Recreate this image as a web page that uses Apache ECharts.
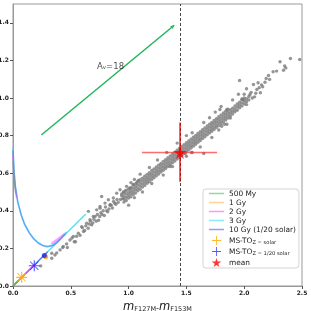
<!DOCTYPE html>
<html><head><meta charset="utf-8">
<script src="https://cdn.jsdelivr.net/npm/echarts@6/dist/echarts.min.js"></script>
<style>html,body{margin:0;padding:0;background:#fff}#c{width:311px;height:311px}</style>
</head><body><div id="c"></div>
<script>
// ---- data ----
const starsSparseLow = [
 [0.24,0.107],[0.335,0.148],[0.335,0.174],[0.363,0.165],[0.378,0.176],[0.407,0.192],[0.43,0.205],[0.435,0.21],
 [0.464,0.224],[0.47,0.205],[0.493,0.245],[0.51,0.255],[0.522,0.263],[0.53,0.235],[0.54,0.235],[0.55,0.265],
 [0.565,0.281],[0.58,0.27],[0.594,0.316],[0.6,0.31],[0.61,0.29],[0.62,0.295],[0.63,0.32],[0.637,0.334],
 [0.65,0.307],[0.652,0.397],[0.66,0.33],[0.666,0.352],[0.67,0.345],[0.68,0.325],[0.69,0.335],[0.695,0.37],
 [0.7,0.355],[0.71,0.37],[0.72,0.345],[0.724,0.405],[0.73,0.38],[0.74,0.35],[0.75,0.37],[0.753,0.414],
 [0.753,0.423],[0.76,0.39],[0.767,0.476],[0.77,0.38],[0.78,0.4],[0.79,0.375],[0.796,0.441],[0.8,0.42],
 [0.81,0.4],[0.82,0.395],[0.825,0.459],[0.83,0.41],[0.84,0.43],[0.84,0.432],[0.85,0.43],[0.86,0.415],
 [0.868,0.468],[0.87,0.45],[0.88,0.44],[0.89,0.435],[0.897,0.494],[0.9,0.46],[0.91,0.445],[0.926,0.512],
 [0.93,0.46],[0.94,0.48],[0.94,0.49],[0.95,0.465],[0.955,0.5],[0.97,0.505],[0.983,0.53],[1.01,0.52],
 [1.04,0.54],[1.07,0.55]
];
const starsBand = [
 [0.96,0.447],[0.96,0.463],[0.96,0.478],[0.96,0.495],
 [0.98,0.455],[0.98,0.472],[0.98,0.49],[0.98,0.51],
 [1.00,0.468],[1.00,0.483],[1.00,0.499],[1.00,0.516],
 [1.02,0.475],[1.02,0.492],[1.02,0.508],[1.02,0.524],
 [1.04,0.487],[1.04,0.503],[1.04,0.52],[1.04,0.537],
 [1.06,0.495],[1.06,0.512],[1.06,0.528],[1.06,0.543],
 [1.08,0.507],[1.08,0.522],[1.08,0.538],[1.08,0.556],
 [1.10,0.515],[1.10,0.532],[1.10,0.548],[1.10,0.565],
 [1.12,0.526],[1.12,0.542],[1.12,0.558],[1.12,0.574],
 [1.14,0.535],[1.14,0.551],[1.14,0.567],[1.14,0.584],
 [1.16,0.546],[1.16,0.561],[1.16,0.577],[1.16,0.594],
 [1.18,0.555],[1.18,0.571],[1.18,0.588],[1.18,0.603],
 [1.20,0.566],[1.20,0.581],[1.20,0.597],[1.20,0.614],
 [1.22,0.576],[1.22,0.591],[1.22,0.607],[1.22,0.623],
 [1.24,0.586],[1.24,0.601],[1.24,0.617],[1.24,0.633],
 [1.26,0.596],[1.26,0.611],[1.26,0.627],[1.26,0.643],
 [1.28,0.606],[1.28,0.621],[1.28,0.637],[1.28,0.652],
 [1.30,0.616],[1.30,0.631],[1.30,0.647],[1.30,0.663],
 [1.32,0.625],[1.32,0.64],[1.32,0.656],[1.32,0.672],
 [1.34,0.635],[1.34,0.65],[1.34,0.666],[1.34,0.682],
 [1.36,0.645],[1.36,0.66],[1.36,0.676],[1.36,0.692],
 [1.38,0.655],[1.38,0.67],[1.38,0.686],[1.38,0.702],
 [1.40,0.665],[1.40,0.68],[1.40,0.696],[1.40,0.712],
 [1.42,0.675],[1.42,0.69],[1.42,0.706],[1.42,0.722],
 [1.44,0.685],[1.44,0.7],[1.44,0.716],[1.44,0.732],
 [1.46,0.695],[1.46,0.71],[1.46,0.726],[1.46,0.742],
 [1.48,0.705],[1.48,0.72],[1.48,0.736],[1.48,0.752],
 [1.50,0.715],[1.50,0.73],[1.50,0.746],[1.50,0.762],
 [1.52,0.724],[1.52,0.739],[1.52,0.755],[1.52,0.771],
 [1.54,0.734],[1.54,0.749],[1.54,0.765],[1.54,0.781],
 [1.56,0.744],[1.56,0.759],[1.56,0.775],[1.56,0.791],
 [1.58,0.754],[1.58,0.769],[1.58,0.785],[1.58,0.801],
 [1.60,0.764],[1.60,0.779],[1.60,0.795],[1.60,0.811],
 [1.62,0.774],[1.62,0.789],[1.62,0.805],[1.62,0.821],
 [1.64,0.784],[1.64,0.799],[1.64,0.815],[1.64,0.831],
 [1.66,0.794],[1.66,0.809],[1.66,0.825],[1.66,0.841],
 [1.68,0.804],[1.68,0.819],[1.68,0.835],[1.68,0.851],
 [1.70,0.814],[1.70,0.829],[1.70,0.845],[1.70,0.861],
 [1.72,0.823],[1.72,0.838],[1.72,0.854],[1.72,0.87],
 [1.74,0.833],[1.74,0.848],[1.74,0.864],[1.74,0.88],
 [1.76,0.843],[1.76,0.858],[1.76,0.874],[1.76,0.89],
 [1.78,0.853],[1.78,0.868],[1.78,0.884],[1.78,0.9],
 [1.80,0.863],[1.80,0.878],[1.80,0.894],[1.80,0.91],
 [1.82,0.873],[1.82,0.888],[1.82,0.904],[1.82,0.92],
 [1.84,0.883],[1.84,0.898],[1.84,0.914],[1.84,0.93],
 [1.86,0.893],[1.86,0.908],[1.86,0.924],[1.86,0.94],
 [1.88,0.905],[1.88,0.92],[1.88,0.936],
 [1.90,0.915],[1.90,0.93],[1.90,0.946],
 [1.92,0.927],[1.92,0.942],[1.92,0.958],
 [1.94,0.935],[1.94,0.952],[1.94,0.968],
 [1.96,0.948],[1.96,0.963],[1.96,0.978],
 [1.98,0.957],[1.98,0.973],[1.98,0.99],
 [2.00,0.968],[2.00,0.984],[2.00,1.0],
 [2.02,0.98],[2.02,0.996],
 [2.04,0.99],[2.04,1.008]
];
const starsOutliers = [
 [1.0,0.43],[1.05,0.47],[1.12,0.5],[1.2,0.545],[1.3,0.59],[1.36,0.636],[1.38,0.635],[1.5,0.69],
 [1.55,0.71],[1.62,0.74],[1.72,0.79],[1.78,0.83],[1.805,0.85],[1.83,0.86],[1.85,0.86],
 [1.02,0.55],[1.05,0.567],[1.085,0.562],[1.1,0.595],[1.18,0.63],[1.25,0.67],[1.33,0.71],[1.42,0.76],
 [1.5,0.8],[1.55,0.815],[1.65,0.87],[1.7,0.895],[1.75,0.925],[1.79,0.939],[1.8,0.955],[1.85,0.939],
 [1.88,0.894],[1.9,0.99],[1.95,1.02],[1.49,0.705],[1.545,0.71],[1.65,0.705]
];
const starsSparseHigh = [
 [1.96,1.093],[1.98,0.995],[1.99,0.992],[2.0,1.02],[2.02,1.049],[2.02,0.965],[2.05,1.019],[2.06,1.03],
 [2.07,1.0],[2.08,1.072],[2.09,1.006],[2.1,1.025],[2.11,1.045],[2.12,1.081],[2.13,1.055],[2.14,1.028],
 [2.15,1.07],[2.16,1.06],[2.18,1.084],[2.19,1.104],[2.21,1.12],[2.22,1.099],[2.25,1.14],[2.28,1.143],
 [2.31,1.193],[2.34,1.148],[2.35,1.17],[2.36,1.16],[2.40,1.21],[2.48,1.205]
];
// isochrones
const iso3Diag = [[0,0],[0.63,0.383]];
const iso3Curve = [[0.0,0.74],[0.008,0.62],[0.02,0.53],[0.04,0.45],[0.07,0.38],[0.1,0.33],[0.14,0.285],[0.18,0.252],[0.22,0.23],[0.26,0.216],[0.3,0.211],[0.34,0.217],[0.38,0.233],[0.42,0.258],[0.45,0.28],[0.465,0.287]];
const iso10Diag = [[0,0],[0.3,0.182]];
const iso10Curve = [[0.0,0.72],[0.009,0.61],[0.022,0.525],[0.042,0.445],[0.072,0.375],[0.1,0.327],[0.14,0.282],[0.18,0.249],[0.22,0.226],[0.26,0.213],[0.3,0.208],[0.34,0.214],[0.38,0.23],[0.42,0.255],[0.455,0.278]];
const iso2Diag = [[0,0],[0.19,0.115]];
const iso2Curve = [[0.0,0.7],[0.006,0.6],[0.016,0.53],[0.03,0.47]];
const iso2Loop = [[0.33,0.224],[0.36,0.24],[0.4,0.258],[0.44,0.276],[0.455,0.282],[0.44,0.268],[0.4,0.25],[0.36,0.234],[0.33,0.224]];
const iso1Diag = [[0,0],[0.11,0.067]];
const iso05Diag = [[0,0],[0.05,0.03]];
const iso05Curve = [[0.0,0.66],[0.01,0.56],[0.025,0.49]];
const msSolar = [[0.075,0.046]];
const msLow = [[0.184,0.108]];
const toSolarDot = [[0.283,0.156]];
const toLowDot = [[0.271,0.162]];
const meanPoint = [[1.445,0.71]];
const xErr = [[1.115,0.71],[1.765,0.71]];
const yErr = [[1.445,0.555],[1.445,0.87]];
const dashX = 1.445;
const avArrow = [[0.245,0.803],[1.395,1.387]];
const avLabelPos = [[0.727,1.17]];
const lineNames = ['500 My','1 Gy','2 Gy','3 Gy','10 Gy (1/20 solar)'];
const markerNames = ['MS-TO solar','MS-TO 1/20 solar','mean'];

const PLUS = 'path://M4.5,0H5.5V4.5H10V5.5H5.5V10H4.5V5.5H0V4.5H4.5Z';
const CROSS = 'path://M0.7,0L5,4.3L9.3,0L10,0.7L5.7,5L10,9.3L9.3,10L5,5.7L0.7,10L0,9.3L4.3,5L0,0.7Z';
const STAR = 'path://M50,0L61,35H98L68,57L79,91L50,70L21,91L32,57L2,35H39Z';
const LINEICON = 'path://M0,0H30V3H0Z';

function lineS(name, data, color, z, op) {
  return {type:'line', name, data, symbol:'none', color, z, silent:true,
    lineStyle:{color, width:1.5, opacity: op}, itemStyle:{color}};
}
const C05='#3dbb55', C1='#ffb340', C2='#ff40ff', C3='#30d8ee', C10='#4646ff';

const legendData = lineNames.map(n => ({name:n, icon:LINEICON, itemStyle:{opacity:0.55}}))
  .concat(markerNames.map(n => ({name:n})));

const chart = echarts.init(document.getElementById('c'), null, {renderer:'canvas'});
chart.setOption({
  animation:false,
  backgroundColor:'#fff',
  grid:{left:13,right:9,top:4,bottom:25,show:true,borderColor:'#999',borderWidth:1,containLabel:false,outerBoundsMode:'none'},
  xAxis:{type:'value',min:0,max:2.5,interval:0.5,
    axisLine:{lineStyle:{color:'#999'}},axisTick:{length:3,lineStyle:{color:'#555'}},
    splitLine:{show:false},
    axisLabel:{fontFamily:'DejaVu Sans',fontWeight:'bold',fontSize:6,color:'#222',margin:4,formatter:v=>v.toFixed(1)},
    name:'{m|m}{s|F127M}{d|-}{m|m}{s|F153M}',nameLocation:'middle',nameGap:9,
    nameTextStyle:{rich:{
      m:{fontFamily:'DejaVu Sans',fontStyle:'italic',fontSize:11.5,color:'#222',lineHeight:12,verticalAlign:'bottom'},
      s:{fontFamily:'DejaVu Sans',fontSize:6.5,color:'#222',lineHeight:7,verticalAlign:'bottom'},
      d:{fontFamily:'DejaVu Sans',fontSize:8,color:'#222',lineHeight:10,verticalAlign:'bottom'}}}},
  yAxis:{type:'value',min:0,max:1.5,interval:0.2,
    axisLine:{show:true,lineStyle:{color:'#999'}},axisTick:{show:true,length:3,lineStyle:{color:'#555'}},
    splitLine:{show:false},
    axisLabel:{fontFamily:'DejaVu Sans',fontWeight:'bold',fontSize:6,color:'#222',margin:4,showMaxLabel:false,formatter:v=>v.toFixed(1)}},
  legend:{data:legendData,orient:'vertical',left:203,top:189,
    itemWidth:15,itemHeight:9,itemGap:2,padding:[2,3,1,6],
    backgroundColor:'rgba(255,255,255,0.85)',borderColor:'#d4d4d4',borderWidth:1,borderRadius:3,
    formatter:function(n){
      if(n==='MS-TO solar') return '{a|MS-TO}{s|Z = solar}';
      if(n==='MS-TO 1/20 solar') return '{a|MS-TO}{s|Z = 1/20 solar}';
      return '{a|'+n+'}';
    },
    textStyle:{rich:{
      a:{fontFamily:'DejaVu Sans',fontSize:7.4,color:'#222',lineHeight:9,verticalAlign:'bottom'},
      s:{fontFamily:'DejaVu Sans',fontSize:5.2,color:'#222',lineHeight:6,verticalAlign:'bottom'}}}},
  series:[
    {type:'scatter',name:'stars',data:starsSparseLow.concat(starsBand,starsOutliers,starsSparseHigh),
     symbolSize:3.4,itemStyle:{color:'#7a7a7a'},z:2,silent:true},
    lineS('3 Gy',iso3Diag,C3,3,0.8),
    lineS('3 Gy',iso3Curve,C3,3,0.8),
    lineS('10 Gy (1/20 solar)',iso10Diag,C10,4,0.6),
    lineS('10 Gy (1/20 solar)',iso10Curve,C10,4,0.35),
    lineS('2 Gy',iso2Diag,C2,5,0.7),
    lineS('2 Gy',iso2Curve,C2,5,0.55),
    lineS('2 Gy',iso2Loop,C2,5,0.5),
    lineS('1 Gy',iso1Diag,C1,6,0.8),
    lineS('500 My',iso05Diag,C05,7,0.8),
    lineS('500 My',iso05Curve,C05,7,0.55),
    {type:'scatter',name:'MS-TO solar',data:msSolar,symbol:PLUS,symbolSize:11,itemStyle:{color:'#ffa500'},z:8,silent:true},
    {type:'scatter',name:'tosx',data:msSolar,symbol:CROSS,symbolSize:9,itemStyle:{color:'#ffa500',opacity:0.8},z:8,silent:true},
    {type:'scatter',name:'MS-TO 1/20 solar',data:msLow,symbol:PLUS,symbolSize:11,itemStyle:{color:'#3030ff'},z:8,silent:true},
    {type:'scatter',name:'tolx',data:msLow,symbol:CROSS,symbolSize:9,itemStyle:{color:'#3030ff',opacity:0.8},z:8,silent:true},
    {type:'scatter',name:'tod1',data:toSolarDot,symbolSize:5,itemStyle:{color:'#ffa500'},z:8,silent:true},
    {type:'scatter',name:'tod2',data:toLowDot,symbolSize:5,itemStyle:{color:'#2020ee'},z:8,silent:true},
    {type:'line',name:'xerr',data:xErr,symbol:'none',lineStyle:{color:'#ff3030',width:1.5,opacity:0.7},z:9,silent:true},
    {type:'line',name:'yerr',data:yErr,symbol:'none',lineStyle:{color:'#e00000',width:1.5,opacity:0.85},z:9,silent:true},
    {type:'scatter',name:'mean',data:meanPoint,symbol:STAR,symbolSize:13,itemStyle:{color:'#ff0000'},z:10,silent:true,
     markLine:{silent:true,symbol:'none',label:{show:false},
       lineStyle:{color:'#333',type:[3,2],width:0.9},data:[{xAxis:dashX}]}},
    {type:'scatter',name:'av',data:avLabelPos,symbolSize:0,z:10,silent:true,
     label:{show:true,position:'right',distance:0,formatter:'{a|A}{s|v}{a|=18}',
       rich:{a:{fontFamily:'DejaVu Sans',fontSize:8.5,color:'#222',lineHeight:10,verticalAlign:'bottom'},
             s:{fontFamily:'DejaVu Sans',fontSize:5.5,color:'#222',lineHeight:6,verticalAlign:'bottom'}}},
     markLine:{silent:true,symbol:['none','arrow'],symbolSize:[3,4],label:{show:false},
       lineStyle:{color:'#22b55a',type:'solid',width:1.5},
       data:[[{coord:avArrow[0]},{coord:avArrow[1]}]]}}
  ]
});
</script>
</body></html>
